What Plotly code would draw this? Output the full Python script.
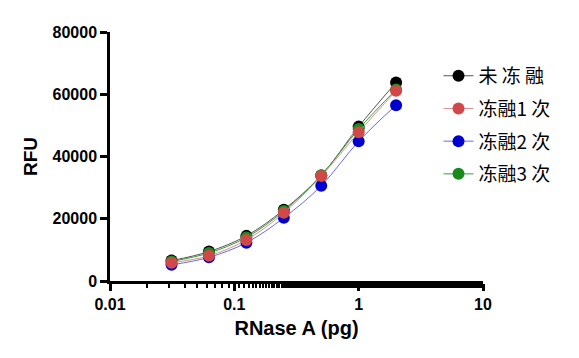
import plotly.graph_objects as go

conc = [0.03125, 0.0625, 0.125, 0.25, 0.5, 1, 2]
names = ["未 冻 融", "冻融1 次", "冻融2 次", "冻融3 次"]
colors = ["#000000", "#d04848", "#0000d0", "#1a8a1a"]
line_colors = ["#555555", "#d89090", "#6a6ae0", "#3a9a3a"]
v0 = [6550, 9450, 14500, 22900, 33900, 49600, 63800]
v1 = [5900, 8100, 13200, 21900, 33700, 47800, 61100]
v2 = [5200, 7600, 12300, 20300, 30600, 44900, 56500]
v3 = [6300, 9000, 14000, 22500, 34000, 48800, 61500]
series = [v0, v1, v2, v3]
draw_order = [2, 0, 3, 1]
yticks = [0, 20000, 40000, 60000, 80000]
xticks = [0.01, 0.1, 1, 10]

fig = go.Figure()
for i in draw_order:
    fig.add_trace(go.Scatter(
        x=conc, y=series[i], name=names[i], mode="lines+markers",
        line=dict(color=line_colors[i], width=1, shape="spline"),
        marker=dict(color=colors[i], size=12),
        legendrank=i, legendgroup=str(i),
    ))

fig.update_layout(
    width=579, height=358,
    margin=dict(l=102, r=104, t=24, b=85, autoexpand=False),
    plot_bgcolor="white", paper_bgcolor="white",
    font=dict(family="Liberation Sans, Arial", color="black"),
    legend=dict(x=0.8807, y=0.90, xanchor="left", yanchor="top",
                font=dict(size=19, family="Noto Sans CJK SC"),
                tracegroupgap=5, itemwidth=30, bgcolor="rgba(0,0,0,0)"),
    xaxis=dict(type="log", range=[-2, 1], showgrid=False, zeroline=False,
               showline=True, linecolor="black", linewidth=2.5,
               ticks="outside", ticklen=7, tickwidth=2.5, tickcolor="black",
               tickvals=xticks, ticktext=[str(v) for v in xticks],
               tickfont=dict(size=16, family="Liberation Sans", weight="bold"),
               minor=dict(ticks="outside", ticklen=4, tickwidth=2, tickcolor="black", showgrid=False),
               title=dict(text="<b>RNase A (pg)</b>", font=dict(size=20), standoff=10)),
    yaxis=dict(range=[0, 80000], showgrid=False, zeroline=False,
               showline=True, linecolor="black", linewidth=2.5,
               ticks="outside", ticklen=7, tickwidth=2.5, tickcolor="black",
               tickvals=yticks, ticktext=[str(v) for v in yticks],
               tickfont=dict(size=16, family="Liberation Sans", weight="bold"),
               title=dict(text="<b>RFU</b>", font=dict(size=19), standoff=10)),
)
fig.write_html("out.html")
